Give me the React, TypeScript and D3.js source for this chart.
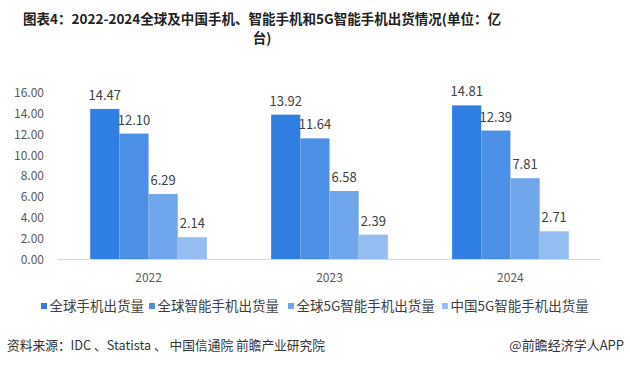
import React from "react";
import * as d3 from "d3";

const categories = ["2022", "2023", "2024"];
const seriesNames = ["全球手机出货量", "全球智能手机出货量", "全球5G智能手机出货量", "中国5G智能手机出货量"];
const globalPhones = [14.47, 13.92, 14.81];
const globalSmart = [12.10, 11.64, 12.39];
const global5G = [6.29, 6.58, 7.81];
const china5G = [2.14, 2.39, 2.71];
const yTicks = [0, 2, 4, 6, 8, 10, 12, 14, 16];
const colors = ["#2f7fe2", "#4b8fe6", "#6fa6ec", "#94bdf2"];

const W = 630, H = 368;
const FONT = "'Noto Sans CJK SC', 'Noto Sans', sans-serif";

export default function App() {
  const series = [globalPhones, globalSmart, global5G, china5G];
  const x0 = d3.scaleBand<string>().domain(categories).range([58, 601]).paddingInner(0.355).paddingOuter(0.178);
  const x1 = d3.scaleBand<number>().domain(d3.range(series.length)).range([0, x0.bandwidth()]);
  const y = d3.scaleLinear().domain([0, 16]).range([259.5, 93]);

  const legendX = [41, 149, 288, 442];

  return (
    <svg width={W} height={H} style={{ position: "absolute", left: 0, top: 0, background: "#fff" }} fontFamily={FONT}>
      <text x={262} y={24} textAnchor="middle" fontSize={13.5} fontWeight="bold" fill="#222" textLength={478} lengthAdjust="spacingAndGlyphs">
        图表4：2022-2024全球及中国手机、智能手机和5G智能手机出货情况(单位：亿
      </text>
      <text x={262} y={43} textAnchor="middle" fontSize={13.5} fontWeight="bold" fill="#222">台)</text>

      {yTicks.map((t) => (
        <text key={t} x={44} y={y(t)} dy="0.35em" textAnchor="end" fontSize={12} fill="#595959">
          {d3.format(".2f")(t)}
        </text>
      ))}

      {categories.map((c, ci) => (
        <g key={c} transform={`translate(${x0(c)},0)`}>
          {series.map((s, si) => (
            <g key={si}>
              <rect x={x1(si)} y={y(s[ci])} width={x1.bandwidth()} height={y(0) - y(s[ci])} fill={colors[si]} />
              <text x={(x1(si) as number) + x1.bandwidth() / 2} y={y(s[ci]) - 9} textAnchor="middle" fontSize={13} fill="#404040">
                {d3.format(".2f")(s[ci])}
              </text>
            </g>
          ))}
          <text x={x0.bandwidth() / 2} y={278} dy="0.35em" textAnchor="middle" fontSize={12} fill="#595959">{c}</text>
        </g>
      ))}

      <line x1={58} x2={601} y1={259.5} y2={259.5} stroke="#d9d9d9" strokeWidth={1} />

      {seriesNames.map((n, i) => (
        <g key={n} transform={`translate(${legendX[i]},306)`}>
          <rect x={0} y={-3} width={6} height={6} fill={colors[i]} />
          <text x={8.5} y={0} dy="0.35em" fontSize={13.5} fill="#404040">{n}</text>
        </g>
      ))}

      <text x={7} y={345} dy="0.35em" fontSize={13} fill="#333" textLength={318} lengthAdjust="spacingAndGlyphs">资料来源：IDC 、Statista 、 中国信通院 前瞻产业研究院</text>
      <text x={624} y={345} dy="0.35em" textAnchor="end" fontSize={13} fill="#333">@前瞻经济学人APP</text>
    </svg>
  );
}
